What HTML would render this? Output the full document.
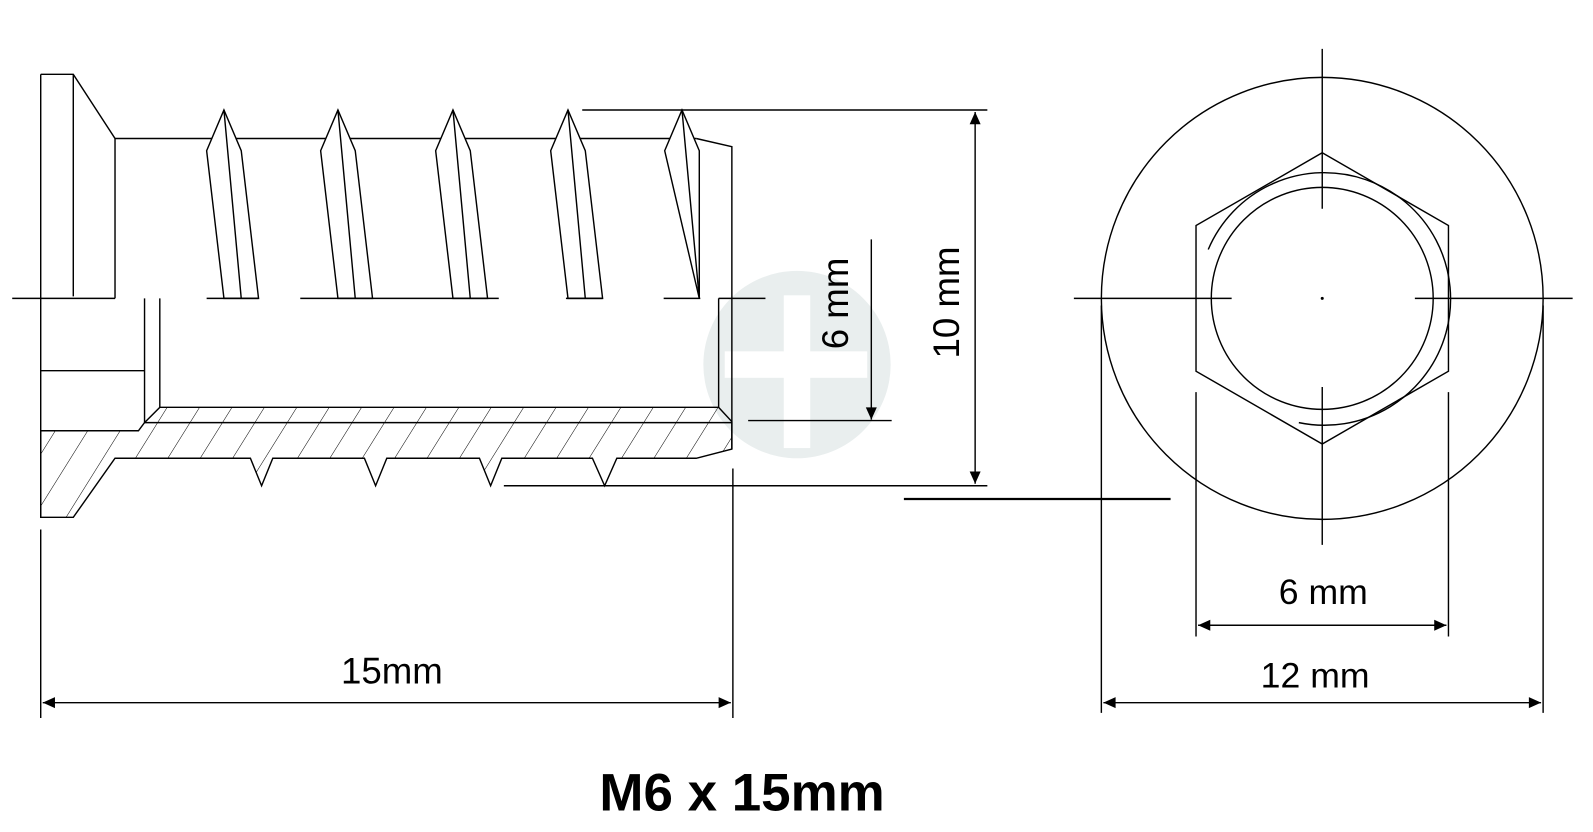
<!DOCTYPE html>
<html><head><meta charset="utf-8"><style>
html,body{margin:0;padding:0;background:#fff;}
svg{display:block;}
text{font-family:"Liberation Sans",Arial,sans-serif;fill:#000;}
</style></head><body>
<svg width="1593" height="832" viewBox="0 0 1565 817" preserveAspectRatio="none" xmlns="http://www.w3.org/2000/svg">
<defs>
<pattern id="h" width="27" height="20" patternUnits="userSpaceOnUse" patternTransform="rotate(32)">
<line x1="0" y1="0" x2="0" y2="20" stroke="#000" stroke-width="1"/>
</pattern>
<marker id="b" viewBox="0 0 10 10" refX="10" refY="5" markerWidth="28" markerHeight="12" markerUnits="userSpaceOnUse" orient="auto-start-reverse">
<path d="M0,0.5 L10,5 L0,9.5 z" fill="#000"/>
</marker>
</defs>
<!-- watermark -->
<circle cx="783" cy="358" r="92" fill="#e9eeee"/>
<g fill="#fff"><rect x="770" y="290" width="26" height="150"/><rect x="712" y="345" width="140" height="26"/></g>

<g fill="none" stroke="#000" stroke-width="1.4">
<path d="M40,423 L136,423 L142,415 L157,400 L706,400 L719,414 L719,441 L684,450 L606,450 L594,477 L582,450 L493,450 L482,477 L471,450 L380,450 L369,477 L358,450 L268,450 L257,477 L246,450 L113,450 L72,508 L40,508 Z" fill="url(#h)"/>
<path d="M40,73 L72,73 L113,136 L113,293"/>
<line x1="72" y1="73" x2="72" y2="291"/>
<line x1="40" y1="73" x2="40" y2="508"/>
<line x1="40" y1="364" x2="142" y2="364"/>
<line x1="142" y1="293" x2="142" y2="415"/>
<line x1="157" y1="293" x2="157" y2="400"/>
<line x1="142" y1="415" x2="719" y2="415"/>
<line x1="706" y1="293" x2="706" y2="400"/>
<line x1="113" y1="136" x2="684" y2="136"/>
<path d="M684,136 L719,144 L719,441"/>
<g fill="#fff">
<path d="M203,148 L220,108 L237,148 L254,293 L220,293 Z"/>
<path d="M315,148 L332,108 L349,148 L366,293 L332,293 Z"/>
<path d="M428,148 L445,108 L462,148 L479,293 L445,293 Z"/>
<path d="M541,148 L558,108 L575,148 L592,293 L558,293 Z"/>
<path d="M653,148 L670,108 L687,148 L687,293 Z"/>
</g>
<path d="M220,108 L237,293 M332,108 L349,293 M445,108 L462,293 M558,108 L575,293 M670,108 L687,293"/>
<path d="M12,293 H113 M203,293 H254 M295,293 H490 M556,293 H592 M652,293 H688 M706,293 H752"/>
<line x1="572" y1="108" x2="970" y2="108"/>
<line x1="495" y1="477" x2="970" y2="477"/>
<line x1="735" y1="413" x2="876" y2="413"/>
<line x1="40" y1="520" x2="40" y2="705"/>
<line x1="720" y1="460" x2="720" y2="705"/>
<line x1="958" y1="110" x2="958" y2="475" marker-start="url(#b)" marker-end="url(#b)"/>
<line x1="856" y1="235" x2="856" y2="412" marker-end="url(#b)"/>
<line x1="42" y1="690" x2="718" y2="690" marker-start="url(#b)" marker-end="url(#b)"/>
<line x1="888" y1="490" x2="1150" y2="490" stroke-width="2.2"/>

<circle cx="1299" cy="293" r="217"/>
<polygon points="1299,150 1423,221.5 1423,364.5 1299,436 1175,364.5 1175,221.5"/>
<circle cx="1299" cy="293" r="109"/>
<path d="M1187,245 A124,124 0 1 1 1276,415"/>
<path d="M1299,48 V205 M1299,380 V535 M1055,293 H1210 M1390,293 H1545"/>
<path d="M1082,300 V700 M1516,300 V700 M1175,385 V625 M1423,385 V625"/>
<line x1="1177" y1="614" x2="1421" y2="614" marker-start="url(#b)" marker-end="url(#b)"/>
<line x1="1084" y1="690" x2="1514" y2="690" marker-start="url(#b)" marker-end="url(#b)"/>
</g>
<circle cx="1299" cy="293" r="1.5" fill="#000"/>

<text x="385" y="671" font-size="36" text-anchor="middle">15mm</text>
<text x="1300" y="593" font-size="35" text-anchor="middle">6 mm</text>
<text x="1292" y="675" font-size="35" text-anchor="middle">12 mm</text>
<text transform="translate(942,297) rotate(-90)" font-size="36" text-anchor="middle">10 mm</text>
<text transform="translate(833,298) rotate(-90)" font-size="36" text-anchor="middle">6 mm</text>
<text x="729" y="796" font-size="52" font-weight="bold" text-anchor="middle">M6 x 15mm</text>
</svg>
</body></html>
